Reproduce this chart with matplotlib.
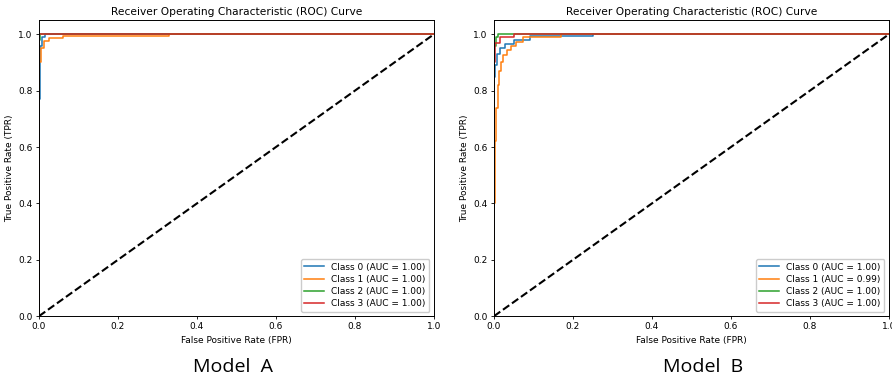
import matplotlib
matplotlib.use("Agg")
import matplotlib.pyplot as plt

# ---- data ----
class_names = ["Class 0", "Class 1", "Class 2", "Class 3"]
colors = ["#1f77b4", "#ff7f0e", "#2ca02c", "#d62728"]

# Model A
a_auc = ["1.00", "1.00", "1.00", "1.00"]
a_fpr0 = [0.0, 0.0, 0.003, 0.003, 0.008, 0.008, 0.015, 0.015, 1.0]
a_tpr0 = [0.0, 0.77, 0.77, 0.96, 0.96, 0.99, 0.99, 1.0, 1.0]
a_fpr1 = [0.0, 0.0, 0.004, 0.004, 0.012, 0.012, 0.025, 0.025, 0.06, 0.06, 0.33, 0.33, 1.0]
a_tpr1 = [0.0, 0.90, 0.90, 0.95, 0.95, 0.975, 0.975, 0.985, 0.985, 0.995, 0.995, 1.0, 1.0]
a_fpr2 = [0.0, 0.0, 0.002, 0.002, 1.0]
a_tpr2 = [0.0, 0.98, 0.98, 1.0, 1.0]
a_fpr3 = [0.0, 0.0, 1.0]
a_tpr3 = [0.0, 1.0, 1.0]

# Model B
b_auc = ["1.00", "0.99", "1.00", "1.00"]
b_fpr0 = [0.0, 0.0, 0.003, 0.003, 0.008, 0.008, 0.015, 0.015, 0.028, 0.028, 0.05, 0.05, 0.09, 0.09, 0.25, 0.25, 1.0]
b_tpr0 = [0.0, 0.85, 0.85, 0.89, 0.89, 0.93, 0.93, 0.95, 0.95, 0.965, 0.965, 0.98, 0.98, 0.993, 0.993, 1.0, 1.0]
b_fpr1 = [0.0, 0.0, 0.003, 0.003, 0.006, 0.006, 0.009, 0.009, 0.013, 0.013, 0.018, 0.018,
          0.024, 0.024, 0.032, 0.032, 0.042, 0.042, 0.055, 0.055, 0.073, 0.073, 0.17, 0.17, 1.0]
b_tpr1 = [0.0, 0.40, 0.40, 0.62, 0.62, 0.74, 0.74, 0.82, 0.82, 0.87, 0.87, 0.90,
          0.90, 0.925, 0.925, 0.945, 0.945, 0.96, 0.96, 0.972, 0.972, 0.99, 0.99, 1.0, 1.0]
b_fpr2 = [0.0, 0.0, 0.004, 0.004, 0.01, 0.01, 1.0]
b_tpr2 = [0.0, 0.96, 0.96, 0.99, 0.99, 1.0, 1.0]
b_fpr3 = [0.0, 0.0, 0.003, 0.003, 0.015, 0.015, 0.05, 0.05, 1.0]
b_tpr3 = [0.0, 0.90, 0.90, 0.97, 0.97, 0.99, 0.99, 1.0, 1.0]

model_labels = ["Model  A", "Model  B"]
title = "Receiver Operating Characteristic (ROC) Curve"

models = [
    ([a_fpr0, a_fpr1, a_fpr2, a_fpr3], [a_tpr0, a_tpr1, a_tpr2, a_tpr3], a_auc),
    ([b_fpr0, b_fpr1, b_fpr2, b_fpr3], [b_tpr0, b_tpr1, b_tpr2, b_tpr3], b_auc),
]

fig = plt.figure(figsize=(8.92, 3.8), dpi=100)
positions = [[0.0437, 0.168, 0.4428, 0.779], [0.5538, 0.168, 0.4428, 0.779]]
centers = [0.261, 0.788]

for pos, (fprs, tprs, aucs), lab, cx in zip(positions, models, model_labels, centers):
    ax = fig.add_axes(pos)
    for name, c, f, t, a in zip(class_names, colors, fprs, tprs, aucs):
        ax.plot(f, t, color=c, lw=1.1, label=f"{name} (AUC = {a})")
    ax.plot([0, 1], [0, 1], "k--", lw=1.5)
    ax.set_xlim(0, 1)
    ax.set_ylim(0, 1.05)
    ax.set_title(title, fontsize=7.7, pad=4)
    ax.set_xlabel("False Positive Rate (FPR)", fontsize=6.5, labelpad=3)
    ax.set_ylabel("True Positive Rate (TPR)", fontsize=6.5, labelpad=3)
    ax.tick_params(labelsize=6.5, length=2.5, width=0.6, pad=2)
    for s in ax.spines.values():
        s.set_linewidth(0.7)
    ax.legend(loc="lower right", fontsize=6.5, handlelength=2.2, borderpad=0.4,
              labelspacing=0.35, framealpha=1, edgecolor="#cccccc")
    fig.text(cx, 0.035, lab, ha="center", va="center", fontsize=14,
             family=["Open Sans", "DejaVu Sans"])

fig.savefig("out.png", dpi=100)
